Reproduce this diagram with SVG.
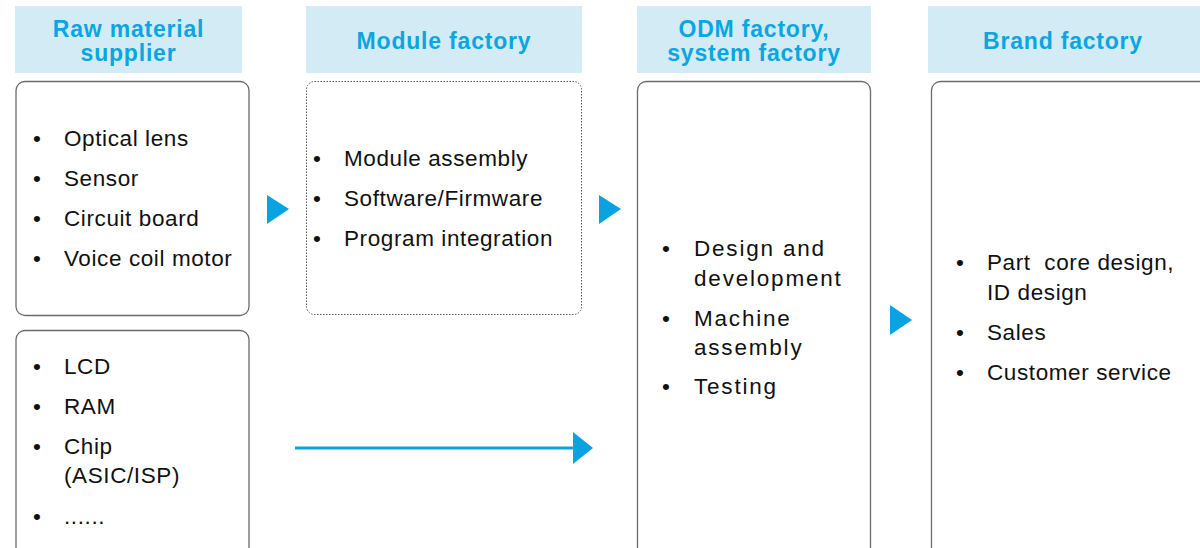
<svg xmlns="http://www.w3.org/2000/svg" width="1200" height="548" viewBox="0 0 1200 548">
<style>
.hdr{fill:#d3ebf4}
.ht{font-family:"Liberation Sans",Arial,sans-serif;font-weight:bold;font-size:23px;fill:#0aa6e2;text-anchor:middle;letter-spacing:0.8px}
.box{fill:#fff;stroke:#6b6b6b;stroke-width:1.3}
.dot{fill:#fff;stroke:#555;stroke-width:1;stroke-dasharray:1.5 1.5}
.t{font-family:"Liberation Sans",Arial,sans-serif;font-size:22.5px;fill:#111;letter-spacing:0.6px;white-space:pre}
.w{letter-spacing:1.8px}
.tri{fill:#0aa2e0}
</style>
<g id="raw-header"><rect class="hdr" x="15" y="6" width="227" height="67"/><text class="ht" x="128.5" y="37">Raw material</text><text class="ht" x="128.5" y="61">supplier</text></g>
<g id="module-header"><rect class="hdr" x="306" y="6" width="276" height="67"/><text class="ht" x="444" y="49">Module factory</text></g>
<g id="odm-header"><rect class="hdr" x="637" y="6" width="234" height="67"/><text class="ht" x="754" y="37">ODM factory,</text><text class="ht" x="754" y="61">system factory</text></g>
<g id="brand-header"><rect class="hdr" x="928" y="6" width="272" height="67"/><text class="ht" x="1063" y="49">Brand factory</text></g>
<g id="raw-box1"><rect class="box" x="16" y="81.5" width="233" height="234" rx="9"/>
<text class="t"><tspan x="33" y="146">•</tspan><tspan x="64" y="146">Optical lens</tspan><tspan x="33" y="186">•</tspan><tspan x="64" y="186">Sensor</tspan><tspan x="33" y="226">•</tspan><tspan x="64" y="226">Circuit board</tspan><tspan x="33" y="266">•</tspan><tspan x="64" y="266">Voice coil motor</tspan></text></g>
<g id="raw-box2"><rect class="box" x="16" y="330.5" width="233" height="240" rx="9"/>
<text class="t"><tspan x="33" y="374">•</tspan><tspan x="64" y="374">LCD</tspan><tspan x="33" y="414">•</tspan><tspan x="64" y="414">RAM</tspan><tspan x="33" y="454">•</tspan><tspan x="64" y="454">Chip</tspan><tspan x="64" y="483">(ASIC/ISP)</tspan><tspan x="33" y="524">•</tspan><tspan x="64" y="524">......</tspan></text></g>
<g id="module-box"><rect class="dot" x="306.5" y="81.5" width="275" height="233" rx="8"/>
<text class="t"><tspan x="313" y="166">•</tspan><tspan x="344" y="166">Module assembly</tspan><tspan x="313" y="206">•</tspan><tspan x="344" y="206">Software/Firmware</tspan><tspan x="313" y="246">•</tspan><tspan x="344" y="246">Program integration</tspan></text></g>
<g id="odm-box"><rect class="box" x="637.5" y="81.5" width="233" height="490" rx="9"/>
<text class="t w"><tspan x="662" y="256">•</tspan><tspan x="694" y="256">Design and</tspan><tspan x="694" y="286">development</tspan><tspan x="662" y="326">•</tspan><tspan x="694" y="326">Machine</tspan><tspan x="694" y="355">assembly</tspan><tspan x="662" y="394">•</tspan><tspan x="694" y="394">Testing</tspan></text></g>
<g id="brand-box"><rect class="box" x="931.5" y="81.5" width="290" height="490" rx="9"/>
<text class="t"><tspan x="956" y="270">•</tspan><tspan x="987" y="270">Part  core design,</tspan><tspan x="987" y="300">ID design</tspan><tspan x="956" y="340">•</tspan><tspan x="987" y="340">Sales</tspan><tspan x="956" y="380">•</tspan><tspan x="987" y="380">Customer service</tspan></text></g>
<g id="connectors">
<polygon class="tri" points="267,195 289,209 267,224"/>
<polygon class="tri" points="599,195 621,209 599,224"/>
<polygon class="tri" points="890,305 912,320 890,335"/>
<line x1="295" y1="448" x2="576" y2="448" stroke="#0aa2e0" stroke-width="3"/>
<polygon class="tri" points="573,432 593,448 573,464"/>
</g>
</svg>
